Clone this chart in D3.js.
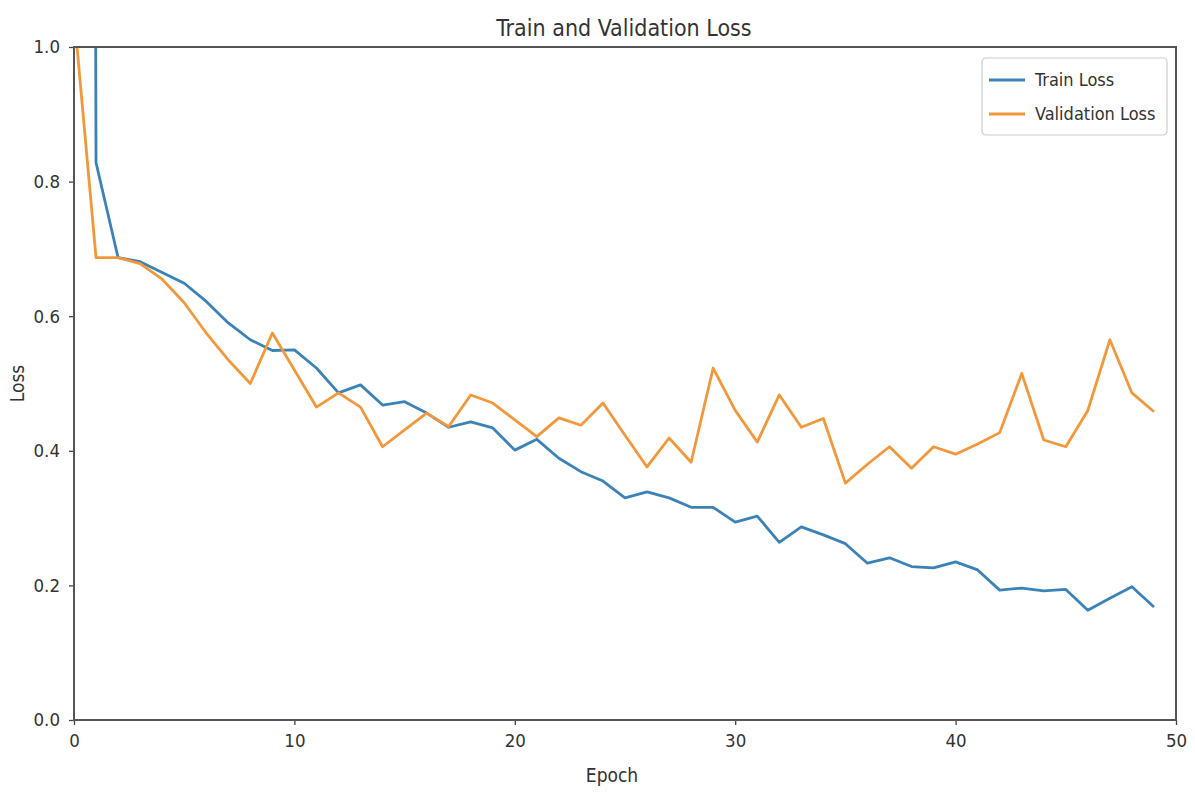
<!DOCTYPE html>
<html>
<head>
<meta charset="utf-8">
<script src="https://cdn.jsdelivr.net/npm/d3@7"></script>
<style>
  body { margin: 0; background: #fff; }
  text { font-family: "DejaVu Sans Condensed", "DejaVu Sans", sans-serif; fill: #333; }
</style>
</head>
<body>
<svg id="chart" width="1195" height="796"></svg>
<script>
// epochs 0..49
const epochs = d3.range(0, 50);
const trainLoss = [12.0, 0.828, 0.687, 0.681, 0.665, 0.649, 0.622, 0.590, 0.565, 0.549,
  0.550, 0.523, 0.486, 0.498, 0.468, 0.473, 0.456, 0.435, 0.443, 0.434,
  0.401, 0.417, 0.389, 0.369, 0.355, 0.330, 0.339, 0.330, 0.316, 0.316,
  0.294, 0.303, 0.264, 0.287, 0.275, 0.262, 0.233, 0.241, 0.228, 0.226,
  0.235, 0.223, 0.193, 0.196, 0.192, 0.194, 0.163, 0.181, 0.198, 0.168];
const valLoss = [1.05, 0.687, 0.687, 0.678, 0.655, 0.620, 0.575, 0.535, 0.500, 0.575,
  0.520, 0.465, 0.486, 0.465, 0.406, 0.431, 0.456, 0.436, 0.483, 0.471,
  0.446, 0.421, 0.449, 0.438, 0.471, 0.423, 0.376, 0.419, 0.383, 0.523,
  0.460, 0.413, 0.483, 0.435, 0.448, 0.352, 0.380, 0.406, 0.374, 0.406,
  0.395, 0.410, 0.427, 0.515, 0.416, 0.406, 0.460, 0.565, 0.486, 0.458];
const xTicks = [0, 10, 20, 30, 40, 50];
const yTicks = [0.0, 0.2, 0.4, 0.6, 0.8, 1.0];
const seriesNames = ["Train Loss", "Validation Loss"];
const colors = ["#3b82b8", "#f2973a"];

const svg = d3.select("#chart");
const margin = { top: 47, right: 19, bottom: 76, left: 74 };
const width = 1195 - margin.left - margin.right;
const height = 796 - margin.top - margin.bottom;

const x = d3.scaleLinear().domain([0, 50]).range([0, width]);
const y = d3.scaleLinear().domain([0, 1]).range([height, 0]);

const g = svg.append("g").attr("transform", `translate(${margin.left},${margin.top})`);

g.append("clipPath").attr("id", "clip")
  .append("rect").attr("width", width).attr("height", height);

const line = d3.line().x((d, i) => x(epochs[i])).y(d => y(d));

[trainLoss, valLoss].forEach((s, k) => {
  g.append("path")
    .datum(s)
    .attr("clip-path", "url(#clip)")
    .attr("fill", "none")
    .attr("stroke", colors[k])
    .attr("stroke-width", 2.8)
    .attr("stroke-linejoin", "round")
    .attr("d", line);
});

// axes
const xAxis = g.append("g").attr("transform", `translate(0,${height})`)
  .call(d3.axisBottom(x).tickValues(xTicks).tickFormat(d3.format("d")).tickSizeOuter(0).tickSize(5).tickPadding(4));
const yAxis = g.append("g")
  .call(d3.axisLeft(y).tickValues(yTicks).tickFormat(d3.format(".1f")).tickSizeOuter(0).tickSize(5).tickPadding(9));
[xAxis, yAxis].forEach(a => {
  a.select(".domain").remove();
  a.selectAll("line").attr("stroke", "#444").attr("stroke-width", 1.3);
  a.selectAll("text").attr("font-size", 18.5).attr("fill", "#333")
    .style("font-family", '"DejaVu Sans Condensed", "DejaVu Sans", sans-serif');
});
xAxis.selectAll("text").attr("dy", "0.95em");

// frame
g.append("rect")
  .attr("width", width).attr("height", height)
  .attr("fill", "none").attr("stroke", "#555").attr("stroke-width", 2);

// title and labels
svg.append("text")
  .attr("x", 624).attr("y", 36)
  .attr("text-anchor", "middle").attr("font-size", 23)
  .text("Train and Validation Loss");
svg.append("text")
  .attr("x", 612).attr("y", 782)
  .attr("text-anchor", "middle").attr("font-size", 19)
  .text("Epoch");
svg.append("text")
  .attr("transform", `translate(24,${margin.top + height / 2}) rotate(-90)`)
  .attr("text-anchor", "middle").attr("font-size", 19)
  .text("Loss");

// legend
const lg = svg.append("g").attr("transform", "translate(982,58)");
lg.append("rect").attr("width", 185).attr("height", 77).attr("rx", 4)
  .attr("fill", "#fff").attr("stroke", "#ccc").attr("stroke-width", 1.2);
seriesNames.forEach((n, i) => {
  const yy = 22 + i * 34;
  lg.append("line").attr("x1", 7).attr("x2", 43).attr("y1", yy).attr("y2", yy)
    .attr("stroke", colors[i]).attr("stroke-width", 2.8);
  lg.append("text").attr("x", 53).attr("y", yy).attr("dy", "0.35em")
    .attr("font-size", 18).text(n);
});
</script>
</body>
</html>
